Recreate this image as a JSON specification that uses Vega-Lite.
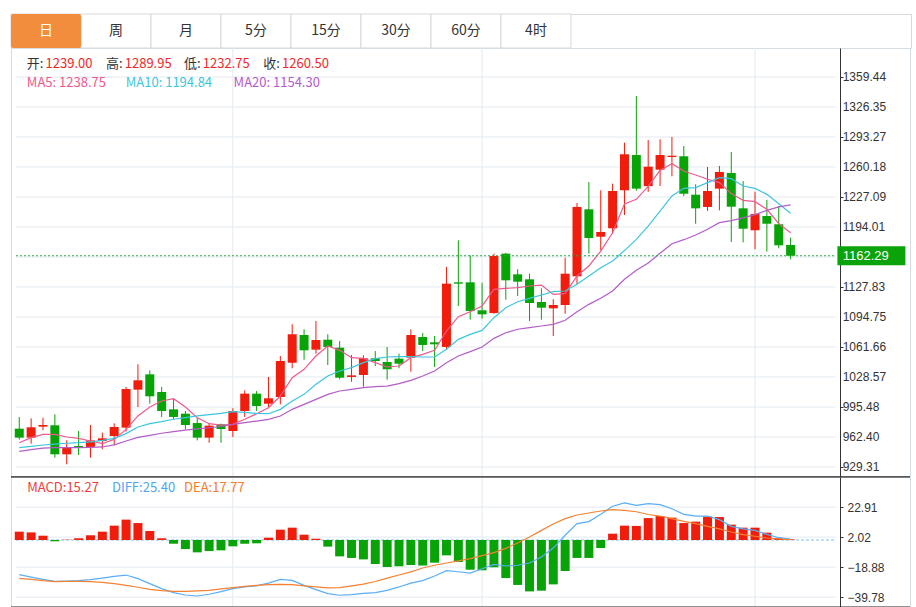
{
  "$schema": "https://vega.github.io/schema/vega-lite/v6.json",
  "background": "white",
  "padding": {"left": 10, "top": 13, "right": 6, "bottom": 0},
  "autosize": {"type": "pad"},
  "config": {"view": {"stroke": null}, "text": {"font": "Noto Sans CJK SC"}, "axis": {"labelOverlap": false}},
  "datasets": {
    "tabs": [
      {"tab": "日", "active": true}, {"tab": "周", "active": false}, {"tab": "月", "active": false},
      {"tab": "5分", "active": false}, {"tab": "15分", "active": false}, {"tab": "30分", "active": false},
      {"tab": "60分", "active": false}, {"tab": "4时", "active": false}
    ],
    "priceTicks": [{"v": 1359.44}, {"v": 1326.35}, {"v": 1293.27}, {"v": 1260.18}, {"v": 1227.09}, {"v": 1194.01}, {"v": 1160.92}, {"v": 1127.83}, {"v": 1094.75}, {"v": 1061.66}, {"v": 1028.57}, {"v": 995.48}, {"v": 962.40}, {"v": 929.31}],
    "macdTicks": [{"v": 22.91}, {"v": 2.02}, {"v": -18.88}, {"v": -39.78}],
    "months": [{"i": 18}, {"i": 39}, {"i": 62}],
    "k": [
      {"i":0,"o":971.6,"h":984.5,"l":959.5,"c":961.7,"ma5":956.1,"ma10":950.6,"ma20":946.5,"diff":-24.1,"dea":-26.7,"macd":5.8},
      {"i":1,"o":961.7,"h":983.0,"l":955.0,"c":973.1,"ma5":961.7,"ma10":952.0,"ma20":948.5,"diff":-25.8,"dea":-27.4,"macd":5.3},
      {"i":2,"o":973.8,"h":983.7,"l":969.8,"c":975.6,"ma5":965.3,"ma10":953.6,"ma20":950.2,"diff":-27.4,"dea":-28.3,"macd":3.0},
      {"i":3,"o":975.3,"h":987.4,"l":939.6,"c":943.3,"ma5":965.3,"ma10":954.5,"ma20":950.6,"diff":-28.8,"dea":-29.0,"macd":-0.9},
      {"i":4,"o":943.3,"h":958.7,"l":932.3,"c":951.4,"ma5":962.4,"ma10":955.5,"ma20":950.6,"diff":-28.6,"dea":-28.8,"macd":0.2},
      {"i":5,"o":952.5,"h":969.0,"l":942.5,"c":951.4,"ma5":960.9,"ma10":956.1,"ma20":950.6,"diff":-28.3,"dea":-28.8,"macd":1.2},
      {"i":6,"o":951.4,"h":975.6,"l":939.6,"c":958.7,"ma5":958.0,"ma10":957.0,"ma20":951.0,"diff":-27.6,"dea":-29.0,"macd":3.3},
      {"i":7,"o":958.0,"h":967.2,"l":948.8,"c":960.9,"ma5":955.0,"ma10":958.7,"ma20":951.4,"diff":-26.5,"dea":-29.5,"macd":5.8},
      {"i":8,"o":963.5,"h":977.5,"l":953.6,"c":973.4,"ma5":959.8,"ma10":960.9,"ma20":953.8,"diff":-25.3,"dea":-30.4,"macd":10.0},
      {"i":9,"o":972.7,"h":1017.6,"l":968.3,"c":1015.3,"ma5":970.8,"ma10":966.1,"ma20":958.0,"diff":-24.4,"dea":-31.6,"macd":14.2},
      {"i":10,"o":1014.6,"h":1042.6,"l":995.5,"c":1024.9,"ma5":985.6,"ma10":973.4,"ma20":962.0,"diff":-26.9,"dea":-32.9,"macd":11.8},
      {"i":11,"o":1031.5,"h":1035.9,"l":999.2,"c":1007.3,"ma5":995.5,"ma10":977.1,"ma20":964.2,"diff":-30.4,"dea":-34.4,"macd":6.3},
      {"i":12,"o":1012.0,"h":1017.6,"l":984.5,"c":991.1,"ma5":1002.1,"ma10":979.3,"ma20":966.5,"diff":-33.9,"dea":-35.3,"macd":1.2},
      {"i":13,"o":992.9,"h":1005.0,"l":981.9,"c":984.5,"ma5":1004.7,"ma10":982.0,"ma20":968.4,"diff":-36.7,"dea":-35.8,"macd":-2.6},
      {"i":14,"o":988.1,"h":991.1,"l":970.8,"c":975.6,"ma5":995.5,"ma10":983.7,"ma20":970.0,"diff":-38.3,"dea":-35.8,"macd":-6.3},
      {"i":15,"o":977.8,"h":983.7,"l":958.7,"c":961.7,"ma5":983.7,"ma10":985.6,"ma20":971.3,"diff":-39.0,"dea":-35.5,"macd":-8.6},
      {"i":16,"o":961.7,"h":977.8,"l":956.1,"c":974.9,"ma5":977.1,"ma10":987.0,"ma20":972.6,"diff":-37.8,"dea":-35.1,"macd":-7.7},
      {"i":17,"o":976.4,"h":977.1,"l":956.1,"c":971.2,"ma5":975.6,"ma10":988.5,"ma20":974.0,"diff":-36.0,"dea":-34.1,"macd":-7.2},
      {"i":18,"o":969.0,"h":994.1,"l":962.4,"c":991.1,"ma5":976.4,"ma10":990.3,"ma20":976.4,"diff":-33.9,"dea":-33.2,"macd":-4.4},
      {"i":19,"o":991.1,"h":1013.9,"l":984.5,"c":1010.2,"ma5":981.9,"ma10":989.5,"ma20":978.2,"diff":-32.7,"dea":-32.3,"macd":-2.6},
      {"i":20,"o":1010.2,"h":1013.1,"l":991.1,"c":996.6,"ma5":988.1,"ma10":988.5,"ma20":980.0,"diff":-32.0,"dea":-31.6,"macd":-2.3},
      {"i":21,"o":999.1,"h":1028.6,"l":995.5,"c":1005.1,"ma5":994.7,"ma10":988.1,"ma20":981.9,"diff":-30.0,"dea":-31.1,"macd":1.6},
      {"i":22,"o":1006.5,"h":1051.7,"l":998.5,"c":1046.2,"ma5":1007.6,"ma10":992.9,"ma20":985.5,"diff":-27.4,"dea":-30.9,"macd":7.2},
      {"i":23,"o":1044.3,"h":1086.7,"l":1038.2,"c":1075.7,"ma5":1027.8,"ma10":1002.1,"ma20":992.9,"diff":-28.1,"dea":-31.1,"macd":8.6},
      {"i":24,"o":1074.9,"h":1081.2,"l":1047.6,"c":1058.0,"ma5":1037.0,"ma10":1009.4,"ma20":998.4,"diff":-31.6,"dea":-32.0,"macd":3.7},
      {"i":25,"o":1058.7,"h":1090.3,"l":1054.3,"c":1069.4,"ma5":1051.7,"ma10":1020.5,"ma20":1003.9,"diff":-34.6,"dea":-32.7,"macd":0.9},
      {"i":26,"o":1069.7,"h":1075.7,"l":1041.8,"c":1061.7,"ma5":1062.7,"ma10":1029.7,"ma20":1009.4,"diff":-37.4,"dea":-33.4,"macd":-4.6},
      {"i":27,"o":1060.9,"h":1068.3,"l":1026.0,"c":1027.8,"ma5":1058.0,"ma10":1035.2,"ma20":1013.1,"diff":-38.5,"dea":-33.2,"macd":-11.4},
      {"i":28,"o":1028.6,"h":1052.8,"l":1023.4,"c":1030.4,"ma5":1049.9,"ma10":1038.9,"ma20":1015.0,"diff":-38.1,"dea":-32.0,"macd":-12.5},
      {"i":29,"o":1030.8,"h":1052.5,"l":1017.9,"c":1049.2,"ma5":1049.1,"ma10":1044.4,"ma20":1016.8,"diff":-37.2,"dea":-30.7,"macd":-13.5},
      {"i":30,"o":1049.2,"h":1057.2,"l":1040.7,"c":1046.2,"ma5":1044.4,"ma10":1048.8,"ma20":1017.9,"diff":-36.7,"dea":-28.9,"macd":-16.7},
      {"i":31,"o":1045.1,"h":1061.7,"l":1025.6,"c":1037.1,"ma5":1039.6,"ma10":1050.6,"ma20":1018.6,"diff":-35.1,"dea":-26.6,"macd":-18.8},
      {"i":32,"o":1048.8,"h":1054.3,"l":1038.2,"c":1043.2,"ma5":1040.7,"ma10":1051.0,"ma20":1021.2,"diff":-32.7,"dea":-24.4,"macd":-18.3},
      {"i":33,"o":1049.9,"h":1081.2,"l":1034.4,"c":1074.9,"ma5":1049.9,"ma10":1051.0,"ma20":1024.9,"diff":-30.0,"dea":-22.2,"macd":-17.4},
      {"i":34,"o":1072.7,"h":1077.1,"l":1057.2,"c":1063.9,"ma5":1053.6,"ma10":1050.6,"ma20":1029.7,"diff":-28.3,"dea":-19.5,"macd":-17.8},
      {"i":35,"o":1066.8,"h":1073.8,"l":1039.6,"c":1064.6,"ma5":1058.0,"ma10":1050.6,"ma20":1035.2,"diff":-25.1,"dea":-17.6,"macd":-15.8},
      {"i":36,"o":1061.7,"h":1149.9,"l":1059.1,"c":1131.5,"ma5":1079.3,"ma10":1059.1,"ma20":1044.4,"diff":-21.4,"dea":-16.0,"macd":-10.7},
      {"i":37,"o":1133.0,"h":1179.3,"l":1106.9,"c":1131.5,"ma5":1095.1,"ma10":1070.1,"ma20":1051.7,"diff":-22.1,"dea":-14.6,"macd":-15.3},
      {"i":38,"o":1133.0,"h":1162.8,"l":1091.8,"c":1101.4,"ma5":1100.6,"ma10":1075.6,"ma20":1056.5,"diff":-23.0,"dea":-13.0,"macd":-20.7},
      {"i":39,"o":1102.1,"h":1132.6,"l":1092.9,"c":1097.7,"ma5":1106.9,"ma10":1080.0,"ma20":1061.7,"diff":-20.0,"dea":-10.9,"macd":-21.1},
      {"i":40,"o":1099.1,"h":1164.6,"l":1098.4,"c":1162.0,"ma5":1125.2,"ma10":1094.0,"ma20":1071.2,"diff":-17.0,"dea":-8.8,"macd":-19.0},
      {"i":41,"o":1164.6,"h":1165.5,"l":1113.8,"c":1135.2,"ma5":1126.3,"ma10":1105.0,"ma20":1077.4,"diff":-18.1,"dea":-5.8,"macd":-26.5},
      {"i":42,"o":1141.8,"h":1147.4,"l":1117.9,"c":1133.7,"ma5":1127.1,"ma10":1111.6,"ma20":1081.2,"diff":-17.6,"dea":-2.1,"macd":-31.3},
      {"i":43,"o":1136.3,"h":1142.5,"l":1090.3,"c":1110.2,"ma5":1128.9,"ma10":1115.3,"ma20":1083.0,"diff":-16.0,"dea":2.1,"macd":-35.8},
      {"i":44,"o":1111.3,"h":1126.4,"l":1091.8,"c":1105.0,"ma5":1130.0,"ma10":1119.0,"ma20":1084.8,"diff":-11.8,"dea":6.7,"macd":-35.3},
      {"i":45,"o":1104.3,"h":1114.3,"l":1073.8,"c":1108.0,"ma5":1119.7,"ma10":1122.7,"ma20":1086.7,"diff":-5.6,"dea":11.1,"macd":-30.9},
      {"i":46,"o":1108.0,"h":1160.1,"l":1098.4,"c":1142.5,"ma5":1120.5,"ma10":1123.4,"ma20":1091.1,"diff":3.3,"dea":14.9,"macd":-21.6},
      {"i":47,"o":1139.6,"h":1220.5,"l":1130.8,"c":1216.1,"ma5":1140.0,"ma10":1130.8,"ma20":1100.6,"diff":11.4,"dea":17.4,"macd":-12.5},
      {"i":48,"o":1213.5,"h":1243.6,"l":1164.6,"c":1181.9,"ma5":1151.0,"ma10":1140.0,"ma20":1108.7,"diff":12.8,"dea":18.8,"macd":-12.5},
      {"i":49,"o":1183.3,"h":1234.5,"l":1168.3,"c":1188.5,"ma5":1167.5,"ma10":1149.1,"ma20":1115.4,"diff":17.9,"dea":20.2,"macd":-5.6},
      {"i":50,"o":1192.6,"h":1241.8,"l":1186.6,"c":1233.7,"ma5":1187.7,"ma10":1156.5,"ma20":1123.4,"diff":23.5,"dea":21.1,"macd":4.4},
      {"i":51,"o":1234.5,"h":1287.0,"l":1207.2,"c":1274.2,"ma5":1219.5,"ma10":1168.0,"ma20":1136.3,"diff":25.8,"dea":20.7,"macd":10.0},
      {"i":52,"o":1273.4,"h":1338.5,"l":1234.0,"c":1236.3,"ma5":1224.5,"ma10":1180.4,"ma20":1146.2,"diff":24.1,"dea":19.7,"macd":9.8},
      {"i":53,"o":1239.00,"h":1289.95,"l":1232.75,"c":1260.50,"ma5":1238.75,"ma10":1194.84,"ma20":1154.30,"diff":25.40,"dea":17.77,"macd":15.27},
      {"i":54,"o":1257.2,"h":1290.7,"l":1239.2,"c":1273.4,"ma5":1256.5,"ma10":1211.6,"ma20":1165.0,"diff":24.6,"dea":16.7,"macd":16.7},
      {"i":55,"o":1271.2,"h":1293.3,"l":1249.9,"c":1272.6,"ma5":1263.8,"ma10":1228.2,"ma20":1175.6,"diff":21.8,"dea":14.9,"macd":15.6},
      {"i":56,"o":1272.0,"h":1283.3,"l":1228.2,"c":1230.7,"ma5":1255.8,"ma10":1236.6,"ma20":1180.0,"diff":17.9,"dea":13.0,"macd":11.8},
      {"i":57,"o":1229.6,"h":1241.1,"l":1197.6,"c":1214.6,"ma5":1251.3,"ma10":1237.4,"ma20":1185.2,"diff":16.7,"dea":11.4,"macd":12.8},
      {"i":58,"o":1216.1,"h":1260.2,"l":1211.7,"c":1233.7,"ma5":1246.6,"ma10":1242.9,"ma20":1191.5,"diff":16.7,"dea":9.5,"macd":16.3},
      {"i":59,"o":1236.3,"h":1261.3,"l":1212.4,"c":1254.7,"ma5":1242.9,"ma10":1248.4,"ma20":1198.8,"diff":14.2,"dea":7.7,"macd":16.0},
      {"i":60,"o":1253.6,"h":1276.7,"l":1177.5,"c":1216.4,"ma5":1230.8,"ma10":1247.3,"ma20":1201.0,"diff":9.5,"dea":5.6,"macd":10.7},
      {"i":61,"o":1214.6,"h":1244.7,"l":1177.1,"c":1192.1,"ma5":1223.4,"ma10":1239.2,"ma20":1204.0,"diff":7.7,"dea":3.7,"macd":8.6},
      {"i":62,"o":1190.4,"h":1232.9,"l":1169.4,"c":1208.3,"ma5":1221.9,"ma10":1236.6,"ma20":1207.6,"diff":6.7,"dea":2.6,"macd":8.6},
      {"i":63,"o":1206.1,"h":1224.0,"l":1166.8,"c":1197.6,"ma5":1213.5,"ma10":1230.0,"ma20":1212.4,"diff":3.9,"dea":1.4,"macd":5.1},
      {"i":64,"o":1197.0,"h":1217.2,"l":1170.5,"c":1173.8,"ma5":1197.7,"ma10":1219.7,"ma20":1216.1,"diff":1.6,"dea":0.7,"macd":1.2},
      {"i":65,"o":1174.2,"h":1182.2,"l":1158.4,"c":1162.29,"ma5":1187.7,"ma10":1209.1,"ma20":1218.3,"diff":0.7,"dea":0.2,"macd":0.4}
    ]
  },
  "spacing": 0,
  "bounds": "flush",
  "vconcat": [
    {
      "width": 900, "height": 34,
      "view": {"stroke": "#D9D9D9"},
      "data": {"name": "tabs"},
      "encoding": {"x": {"field": "tab", "type": "nominal", "sort": null, "axis": null,
        "scale": {"type": "band", "domain": ["日", "周", "月", "5分", "15分", "30分", "60分", "4时", "·1", "·2", "·3", "·4"], "paddingInner": 0, "paddingOuter": 0.4286, "align": 0}}},
      "layer": [
        {"mark": {"type": "rect", "fill": "white", "stroke": "#D9D9D9", "strokeWidth": 1}},
        {"transform": [{"filter": "datum.active"}], "mark": {"type": "rect", "fill": "#F38D3E", "cornerRadius": 2}},
        {"mark": {"type": "text", "font": "Noto Sans CJK SC", "fontSize": 14, "baseline": "middle"},
         "encoding": {"text": {"field": "tab"}, "color": {"condition": {"test": "datum.active", "value": "#FFFFFF"}, "value": "#333333"}}}
      ]
    },
    {
      "width": 899, "height": 429,
      "view": {"stroke": "#D5DCE2"},
      "layer": [
        {"data": {"name": "priceTicks"}, "mark": {"type": "rule", "color": "#E3EAF0", "strokeWidth": 1},
         "encoding": {
           "y": {"field": "v", "type": "quantitative", "scale": {"domain": [918.28, 1391.41], "nice": false, "zero": false},
                 "axis": {"orient": "right", "offset": -70, "values": [1359.44, 1326.35, 1293.27, 1260.18, 1227.09, 1194.01, 1127.83, 1094.75, 1061.66, 1028.57, 995.48, 962.40, 929.31], "labels": false, "grid": false, "domain": true, "domainColor": "#333333", "tickColor": "#333333", "tickSize": 3, "title": null}},
           "x": {"datum": -0.275, "type": "quantitative", "scale": {"domain": [-0.275, 74.64], "nice": false, "zero": false}, "axis": null},
           "x2": {"datum": 68.81}}},
        {"data": {"name": "priceTicks"}, "transform": [{"filter": "datum.v != 1160.92"}], "mark": {"type": "text", "align": "left", "baseline": "middle", "font": "Liberation Sans", "fontSize": 12, "color": "#333333"},
         "encoding": {
           "y": {"field": "v", "type": "quantitative", "scale": {"domain": [918.28, 1391.41], "nice": false, "zero": false}, "title": null},
           "x": {"datum": 69.39, "type": "quantitative", "scale": {"domain": [-0.275, 74.64], "nice": false, "zero": false}, "axis": null},
           "text": {"field": "v", "format": ".2f"}}},
        {"data": {"name": "months"}, "mark": {"type": "rule", "color": "#E3EAF0", "strokeWidth": 1},
         "encoding": {"x": {"field": "i", "type": "quantitative", "scale": {"domain": [-0.275, 74.64], "nice": false, "zero": false}, "axis": null}}},
        {"data": {"name": "k"}, "mark": {"type": "rule", "strokeWidth": 1},
         "encoding": {
           "x": {"field": "i", "type": "quantitative", "scale": {"domain": [-0.275, 74.64], "nice": false, "zero": false}, "axis": null},
           "y": {"field": "l", "type": "quantitative", "scale": {"domain": [918.28, 1391.41], "nice": false, "zero": false}, "title": null},
           "y2": {"field": "h"},
           "color": {"condition": {"test": "datum.c >= datum.o", "value": "#F01C0C"}, "value": "#07A307"}}},
        {"data": {"name": "k"}, "mark": {"type": "bar", "width": 9},
         "encoding": {
           "x": {"field": "i", "type": "quantitative", "scale": {"domain": [-0.275, 74.64], "nice": false, "zero": false}, "axis": null},
           "y": {"field": "o", "type": "quantitative", "scale": {"domain": [918.28, 1391.41], "nice": false, "zero": false}, "title": null},
           "y2": {"field": "c"},
           "color": {"condition": {"test": "datum.c >= datum.o", "value": "#F01C0C"}, "value": "#07A307"}}},
        {"data": {"name": "k"}, "mark": {"type": "line", "color": "#EF5A8E", "strokeWidth": 1.2},
         "encoding": {
           "x": {"field": "i", "type": "quantitative", "scale": {"domain": [-0.275, 74.64], "nice": false, "zero": false}, "axis": null},
           "y": {"field": "ma5", "type": "quantitative", "scale": {"domain": [918.28, 1391.41], "nice": false, "zero": false}, "title": null}}},
        {"data": {"name": "k"}, "mark": {"type": "line", "color": "#3CC6DE", "strokeWidth": 1.2},
         "encoding": {
           "x": {"field": "i", "type": "quantitative", "scale": {"domain": [-0.275, 74.64], "nice": false, "zero": false}, "axis": null},
           "y": {"field": "ma10", "type": "quantitative", "scale": {"domain": [918.28, 1391.41], "nice": false, "zero": false}, "title": null}}},
        {"data": {"name": "k"}, "mark": {"type": "line", "color": "#B45CC8", "strokeWidth": 1.2},
         "encoding": {
           "x": {"field": "i", "type": "quantitative", "scale": {"domain": [-0.275, 74.64], "nice": false, "zero": false}, "axis": null},
           "y": {"field": "ma20", "type": "quantitative", "scale": {"domain": [918.28, 1391.41], "nice": false, "zero": false}, "title": null}}},
        {"data": {"name": "k"}, "transform": [{"filter": "datum.i == 65"}], "mark": {"type": "rule", "color": "#2FA84A", "strokeDash": [2, 2], "strokeWidth": 1},
         "encoding": {
           "y": {"field": "c", "type": "quantitative", "scale": {"domain": [918.28, 1391.41], "nice": false, "zero": false}, "title": null},
           "x": {"datum": -0.275, "type": "quantitative", "scale": {"domain": [-0.275, 74.64], "nice": false, "zero": false}, "axis": null},
           "x2": {"datum": 68.81}}},
        {"data": {"name": "k"}, "transform": [{"filter": "datum.i == 65"}], "mark": {"type": "tick", "orient": "horizontal", "size": 68, "thickness": 19, "color": "#0AA30A", "opacity": 1},
         "encoding": {
           "y": {"field": "c", "type": "quantitative", "scale": {"domain": [918.28, 1391.41], "nice": false, "zero": false}, "title": null},
           "x": {"datum": 71.81, "type": "quantitative", "scale": {"domain": [-0.275, 74.64], "nice": false, "zero": false}, "axis": null}}},
        {"data": {"name": "k"}, "transform": [{"filter": "datum.i == 65"}], "mark": {"type": "text", "align": "left", "baseline": "middle", "color": "#FFFFFF", "font": "Liberation Sans", "fontSize": 13},
         "encoding": {
           "y": {"field": "c", "type": "quantitative", "scale": {"domain": [918.28, 1391.41], "nice": false, "zero": false}, "title": null},
           "x": {"datum": 69.39, "type": "quantitative", "scale": {"domain": [-0.275, 74.64], "nice": false, "zero": false}, "axis": null},
           "text": {"field": "c", "format": ".2f"}}},
        {"data": {"values": [{"t": "开:"}]}, "mark": {"type": "text", "align": "left", "baseline": "middle", "color": "#333333", "fontSize": 13},
         "encoding": {"x": {"datum": 0.64, "type": "quantitative", "axis": null}, "y": {"datum": 1374.3, "type": "quantitative"}, "text": {"field": "t"}}},
        {"data": {"values": [{"t": "高:"}]}, "mark": {"type": "text", "align": "left", "baseline": "middle", "color": "#333333", "fontSize": 13},
         "encoding": {"x": {"datum": 7.31, "type": "quantitative", "axis": null}, "y": {"datum": 1374.3, "type": "quantitative"}, "text": {"field": "t"}}},
        {"data": {"values": [{"t": "低:"}]}, "mark": {"type": "text", "align": "left", "baseline": "middle", "color": "#333333", "fontSize": 13},
         "encoding": {"x": {"datum": 13.89, "type": "quantitative", "axis": null}, "y": {"datum": 1374.3, "type": "quantitative"}, "text": {"field": "t"}}},
        {"data": {"values": [{"t": "收:"}]}, "mark": {"type": "text", "align": "left", "baseline": "middle", "color": "#333333", "fontSize": 13},
         "encoding": {"x": {"datum": 20.56, "type": "quantitative", "axis": null}, "y": {"datum": 1374.3, "type": "quantitative"}, "text": {"field": "t"}}},
        {"data": {"values": [{"t": "1239.00"}]}, "mark": {"type": "text", "align": "left", "baseline": "middle", "color": "#F02828", "fontSize": 13},
         "encoding": {"x": {"datum": 2.22, "type": "quantitative", "axis": null}, "y": {"datum": 1374.3, "type": "quantitative"}, "text": {"field": "t"}}},
        {"data": {"values": [{"t": "1289.95"}]}, "mark": {"type": "text", "align": "left", "baseline": "middle", "color": "#F02828", "fontSize": 13},
         "encoding": {"x": {"datum": 8.89, "type": "quantitative", "axis": null}, "y": {"datum": 1374.3, "type": "quantitative"}, "text": {"field": "t"}}},
        {"data": {"values": [{"t": "1232.75"}]}, "mark": {"type": "text", "align": "left", "baseline": "middle", "color": "#F02828", "fontSize": 13},
         "encoding": {"x": {"datum": 15.47, "type": "quantitative", "axis": null}, "y": {"datum": 1374.3, "type": "quantitative"}, "text": {"field": "t"}}},
        {"data": {"values": [{"t": "1260.50"}]}, "mark": {"type": "text", "align": "left", "baseline": "middle", "color": "#F02828", "fontSize": 13},
         "encoding": {"x": {"datum": 22.14, "type": "quantitative", "axis": null}, "y": {"datum": 1374.3, "type": "quantitative"}, "text": {"field": "t"}}},
        {"data": {"values": [{"t": "MA5: 1238.75"}]}, "mark": {"type": "text", "align": "left", "baseline": "middle", "color": "#EF5A8E", "fontSize": 13},
         "encoding": {"x": {"datum": 0.64, "type": "quantitative", "axis": null}, "y": {"datum": 1353.0, "type": "quantitative"}, "text": {"field": "t"}}},
        {"data": {"values": [{"t": "MA10: 1194.84"}]}, "mark": {"type": "text", "align": "left", "baseline": "middle", "color": "#3CC6DE", "fontSize": 13},
         "encoding": {"x": {"datum": 8.975, "type": "quantitative", "axis": null}, "y": {"datum": 1353.0, "type": "quantitative"}, "text": {"field": "t"}}},
        {"data": {"values": [{"t": "MA20: 1154.30"}]}, "mark": {"type": "text", "align": "left", "baseline": "middle", "color": "#B45CC8", "fontSize": 13},
         "encoding": {"x": {"datum": 18.06, "type": "quantitative", "axis": null}, "y": {"datum": 1353.0, "type": "quantitative"}, "text": {"field": "t"}}},
        {"data": {"values": [{}]}, "mark": {"type": "rule", "color": "#222222", "strokeWidth": 1},
         "encoding": {"y": {"datum": 918.28, "type": "quantitative"}}}
      ]
    },
    {
      "width": 899, "height": 130,
      "view": {"stroke": "#D5DCE2"},
      "layer": [
        {"data": {"name": "macdTicks"}, "mark": {"type": "rule", "color": "#E3EAF0", "strokeWidth": 1},
         "encoding": {
           "y": {"field": "v", "type": "quantitative", "scale": {"domain": [-46.67, 43.89], "nice": false, "zero": false},
                 "axis": {"orient": "right", "offset": -70, "values": [22.91, 2.02, -18.88, -39.78], "format": ".2f", "grid": false, "domain": true, "domainColor": "#333333", "tickColor": "#333333", "tickSize": 3, "labelPadding": 4, "labelFont": "Liberation Sans", "labelFontSize": 12, "labelColor": "#333333", "title": null, "labelOverlap": false, "labelFlush": false}},
           "x": {"datum": -0.275, "type": "quantitative", "scale": {"domain": [-0.275, 74.64], "nice": false, "zero": false}, "axis": null},
           "x2": {"datum": 68.81}}},
        {"data": {"name": "months"}, "mark": {"type": "rule", "color": "#E3EAF0", "strokeWidth": 1},
         "encoding": {"x": {"field": "i", "type": "quantitative", "scale": {"domain": [-0.275, 74.64], "nice": false, "zero": false}, "axis": null}}},
        {"data": {"values": [{}]}, "mark": {"type": "rule", "color": "#A5D5F2", "strokeDash": [3, 2], "strokeWidth": 1.5},
         "encoding": {
           "y": {"datum": 0, "type": "quantitative"},
           "x": {"datum": -0.275, "type": "quantitative", "axis": null},
           "x2": {"datum": 68.81}}},
        {"data": {"name": "k"}, "mark": {"type": "bar", "width": 9},
         "encoding": {
           "x": {"field": "i", "type": "quantitative", "scale": {"domain": [-0.275, 74.64], "nice": false, "zero": false}, "axis": null},
           "y": {"field": "macd", "type": "quantitative", "scale": {"domain": [-46.67, 43.89], "nice": false, "zero": false}, "title": null},
           "y2": {"datum": 0},
           "color": {"condition": {"test": "datum.macd >= 0", "value": "#F01C0C"}, "value": "#07A307"}}},
        {"data": {"name": "k"}, "mark": {"type": "line", "color": "#5AAEF5", "strokeWidth": 1.2},
         "encoding": {
           "x": {"field": "i", "type": "quantitative", "scale": {"domain": [-0.275, 74.64], "nice": false, "zero": false}, "axis": null},
           "y": {"field": "diff", "type": "quantitative", "scale": {"domain": [-46.67, 43.89], "nice": false, "zero": false}, "title": null}}},
        {"data": {"name": "k"}, "mark": {"type": "line", "color": "#F58232", "strokeWidth": 1.2},
         "encoding": {
           "x": {"field": "i", "type": "quantitative", "scale": {"domain": [-0.275, 74.64], "nice": false, "zero": false}, "axis": null},
           "y": {"field": "dea", "type": "quantitative", "scale": {"domain": [-46.67, 43.89], "nice": false, "zero": false}, "title": null}}},
        {"data": {"values": [{"t": "MACD:15.27"}]}, "mark": {"type": "text", "align": "left", "baseline": "middle", "color": "#F03C3C", "fontSize": 13},
         "encoding": {"x": {"datum": 0.67, "type": "quantitative", "axis": null}, "y": {"datum": 36.2, "type": "quantitative"}, "text": {"field": "t"}}},
        {"data": {"values": [{"t": "DIFF:25.40"}]}, "mark": {"type": "text", "align": "left", "baseline": "middle", "color": "#4FA6F0", "fontSize": 13},
         "encoding": {"x": {"datum": 7.81, "type": "quantitative", "axis": null}, "y": {"datum": 36.2, "type": "quantitative"}, "text": {"field": "t"}}},
        {"data": {"values": [{"t": "DEA:17.77"}]}, "mark": {"type": "text", "align": "left", "baseline": "middle", "color": "#F57C2C", "fontSize": 13},
         "encoding": {"x": {"datum": 13.89, "type": "quantitative", "axis": null}, "y": {"datum": 36.2, "type": "quantitative"}, "text": {"field": "t"}}},
        {"data": {"values": [{}]}, "mark": {"type": "rule", "color": "#222222", "strokeWidth": 1},
         "encoding": {"y": {"datum": 43.89, "type": "quantitative"}}},
        {"data": {"values": [{}]}, "mark": {"type": "rule", "color": "#222222", "strokeWidth": 1},
         "encoding": {"y": {"datum": -46.67, "type": "quantitative"}}}
      ]
    }
  ]
}
